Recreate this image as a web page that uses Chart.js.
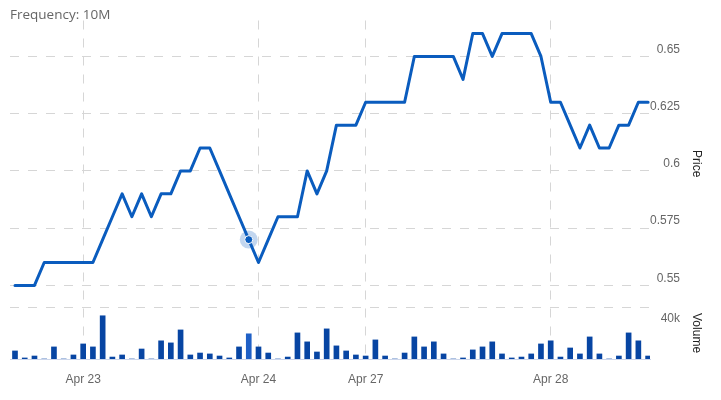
<!DOCTYPE html>
<html>
<head>
<meta charset="utf-8">
<script src="https://cdn.jsdelivr.net/npm/chart.js@4/dist/chart.umd.min.js"></script>
<style>
  html, body { margin: 0; padding: 0; background: #ffffff; }
  #wrap { width: 721px; height: 400px; }
</style>
</head>
<body>
<div id="wrap"><canvas id="c" width="721" height="400"></canvas></div>
<script>
// ---- data ----
const frequencyLabel = 'Frequency: 10M';
const dayStartIndex = [7, 25, 36, 55];
const dayLabels = ['Apr 23', 'Apr 24', 'Apr 27', 'Apr 28'];
const prices = [
  0.55, 0.55, 0.55, 0.56, 0.56, 0.56, 0.56, 0.56, 0.56, 0.57,
  0.58, 0.59, 0.58, 0.59, 0.58, 0.59, 0.59, 0.60, 0.60, 0.61,
  0.61, 0.60, 0.59, 0.58, 0.57, 0.56, 0.57, 0.58, 0.58, 0.58,
  0.60, 0.59, 0.60, 0.62, 0.62, 0.62, 0.63, 0.63, 0.63, 0.63,
  0.63, 0.65, 0.65, 0.65, 0.65, 0.65, 0.64, 0.66, 0.66, 0.65,
  0.66, 0.66, 0.66, 0.66, 0.65, 0.63, 0.63, 0.62, 0.61, 0.62,
  0.61, 0.61, 0.62, 0.62, 0.63, 0.63
];
const volumes = [
  6200, 800, 2300, 0, 9300, 0, 3100, 11600, 9300, 33300,
  1500, 3100, 0, 7700, 0, 14000, 12400, 22400, 3100, 4600,
  3900, 2300, 800, 9300, 19400, 9300, 4600, 0, 1500, 20100,
  13200, 5400, 23200, 10100, 6200, 3100, 2300, 14700, 2300, 0,
  4600, 17000, 9300, 13200, 3900, 0, 800, 7000, 9300, 13200,
  3900, 800, 1500, 3900, 11600, 14000, 1500, 8500, 3900, 17000,
  3900, 0, 2300, 20100, 14000, 2300
];
const priceTicks = [0.55, 0.575, 0.6, 0.625, 0.65];
const volumeTicks = [40000];
const hoverIndex = 24;

// ---- styling / layout ----
const FONT = '"Liberation Sans", Arial, sans-serif';
const GRID = '#d6d6d6';
const DASH = [9, 9];
const LINE_COLOR = '#0a5cbe';
const BAR_COLOR = '#0745a3';
const BAR_HOVER = '#1f60c6';
const labelBoxWidth = 30;   // plot right edge 650 -> labels right-aligned at 680
const rightMargin = 41;

const fmtPrice = v => String(Number(v.toFixed(3)));
const fmtVol = v => (v / 1000) + 'k';

Chart.defaults.font.family = FONT;

const markerPlugin = {
  id: 'hoverMarker',
  afterDatasetsDraw(chart) {
    const meta = chart.getDatasetMeta(1);
    const pt = meta.data[hoverIndex];
    if (!pt) return;
    const ctx = chart.ctx;
    ctx.save();
    ctx.beginPath();
    ctx.arc(pt.x, pt.y, 9, 0, Math.PI * 2);
    ctx.fillStyle = 'rgba(10,92,190,0.25)';
    ctx.fill();
    ctx.beginPath();
    ctx.arc(pt.x, pt.y, 4, 0, Math.PI * 2);
    ctx.fillStyle = LINE_COLOR;
    ctx.fill();
    ctx.lineWidth = 1;
    ctx.strokeStyle = '#ffffff';
    ctx.stroke();
    ctx.restore();
  }
};

new Chart(document.getElementById('c'), {
  type: 'bar',
  data: {
    datasets: [
      {
        type: 'bar',
        label: 'Volume',
        data: volumes.map((v, i) => ({ x: i, y: v })),
        xAxisID: 'x',
        yAxisID: 'yVol',
        backgroundColor: ctx => ctx.dataIndex === hoverIndex ? BAR_HOVER : BAR_COLOR,
        borderWidth: 0,
        barThickness: 5,
        order: 1
      },
      {
        type: 'line',
        label: 'Price',
        data: prices.map((v, i) => ({ x: i, y: v })),
        xAxisID: 'x',
        yAxisID: 'yPrice',
        borderColor: LINE_COLOR,
        borderWidth: 3,
        pointRadius: 0,
        tension: 0,
        fill: false,
        borderJoinStyle: 'round',
        borderCapStyle: 'round',
        order: 0
      }
    ]
  },
  options: {
    responsive: false,
    animation: false,
    events: [],
    devicePixelRatio: 1,
    layout: { padding: { left: 10, right: rightMargin, top: 0, bottom: 0 } },
    plugins: {
      legend: { display: false },
      tooltip: { enabled: false },
      title: {
        display: true,
        text: frequencyLabel,
        align: 'start',
        color: '#666666',
        font: { family: '"Open Sans", ' + FONT, size: 13.5, weight: 'normal', lineHeight: '11px' },
        padding: { top: 9.5, bottom: 0 }
      }
    },
    scales: {
      x: {
        type: 'linear',
        position: 'bottom',
        offset: false,
        min: -0.513,
        max: 65.195,
        afterBuildTicks: s => { s.ticks = dayStartIndex.map(v => ({ value: v })); },
        afterFit: s => { s.height = 41; },
        ticks: {
          callback: (v, i) => dayLabels[i],
          color: '#666666',
          font: { size: 12 },
          padding: 13,
          maxRotation: 0,
          autoSkip: false
        },
        grid: { color: GRID, lineWidth: 1, drawTicks: false, offset: false },
        border: { display: true, color: '#ccd6eb', width: 1, dash: DASH }
      },
      yPrice: {
        type: 'linear',
        position: 'right',
        stack: 'panes',
        stackWeight: 287,
        min: 0.54054,
        max: 0.6657,
        afterBuildTicks: s => { s.ticks = priceTicks.map(v => ({ value: v })); },
        afterFit: s => { s.width = labelBoxWidth; },
        ticks: {
          callback: v => fmtPrice(v),
          color: '#666666',
          font: { size: 12 },
          padding: 0,
          crossAlign: 'far',
          labelOffset: -7
        },
        grid: { color: GRID, lineWidth: 1, drawTicks: false },
        border: { display: false, dash: DASH },
        title: {
          display: true,
          text: 'Price',
          color: '#222222',
          font: { size: 12 },
          padding: { top: -24, bottom: 0 }
        }
      },
      yVol: {
        type: 'linear',
        position: 'right',
        stack: 'panes',
        stackWeight: 52,
        min: 0,
        max: 40000,
        afterBuildTicks: s => { s.ticks = volumeTicks.map(v => ({ value: v })); },
        afterFit: s => { s.width = labelBoxWidth; },
        ticks: {
          callback: v => fmtVol(v),
          color: '#666666',
          font: { size: 12 },
          padding: 0,
          crossAlign: 'far',
          labelOffset: 12
        },
        grid: { color: GRID, lineWidth: 1, drawTicks: false },
        border: { display: false, dash: DASH },
        title: {
          display: true,
          text: 'Volume',
          color: '#222222',
          font: { size: 12 },
          padding: { top: -24, bottom: 0 }
        }
      }
    }
  },
  plugins: [markerPlugin]
});
</script>
</body>
</html>
